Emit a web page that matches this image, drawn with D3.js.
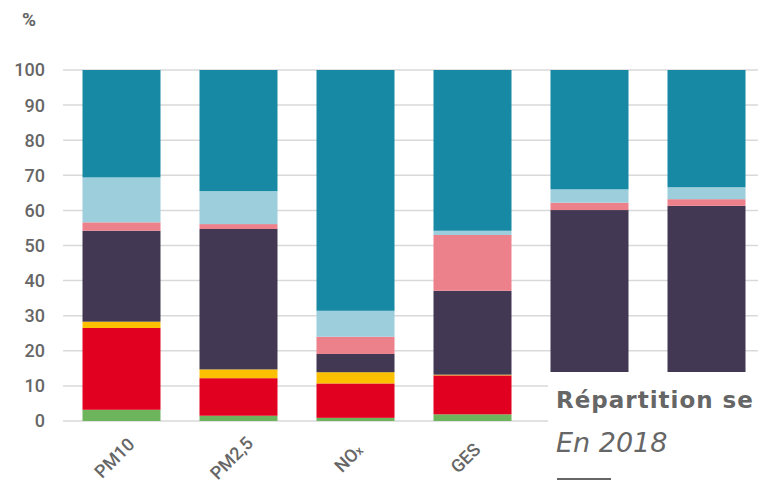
<!DOCTYPE html>
<html>
<head>
<meta charset="utf-8">
<script src="https://d3js.org/d3.v7.min.js"></script>
<style>
  body { margin: 0; background: #fff; }
  svg { display: block; font-family: Roboto, "DejaVu Sans", sans-serif; }
</style>
</head>
<body>
<svg width="758" height="484"></svg>
<script>
// categories (the last two are hidden under the title box)
const categories = ["PM10", "PM2,5", "NOx", "GES", "", ""];
// sector series, from bottom to top
const seriesKeys = ["green", "red", "yellow", "purple", "pink", "lightblue", "teal"];
const green     = [3.2, 1.5, 0.9, 1.9, 0, 0];
const red       = [23.3, 10.7, 9.8, 11.1, 0, 0];
const yellow    = [1.8, 2.5, 3.2, 0.2, 0, 0];
const purple    = [25.9, 40.0, 5.2, 23.9, 60.1, 61.3];
const pink      = [2.4, 1.4, 4.9, 15.9, 2.1, 1.9];
const lightblue = [12.8, 9.4, 7.4, 1.2, 3.8, 3.4];
const teal      = [30.6, 34.5, 68.6, 45.8, 34.0, 33.4];
const yTicks = [0, 10, 20, 30, 40, 50, 60, 70, 80, 90, 100];

const colors = {
  green: "#6cb55d", red: "#e1001f", yellow: "#fbc100", purple: "#433853",
  pink: "#ec808b", lightblue: "#9ccedc", teal: "#1889a4"
};
const seriesValues = { green, red, yellow, purple, pink, lightblue, teal };

const rows = categories.map((c, i) => {
  const r = { idx: i, label: c };
  seriesKeys.forEach(k => r[k] = seriesValues[k][i]);
  return r;
});

const svg = d3.select("svg");
const textColor = "#666";

const x = d3.scaleBand().domain(rows.map(d => d.idx)).range([63, 765])
  .paddingInner(1 / 3).paddingOuter(1 / 6);
const y = d3.scaleLinear().domain([0, 100]).range([421, 70]);

// gridlines
svg.append("g").selectAll("line").data(yTicks).enter().append("line")
  .attr("x1", 63).attr("x2", 758)
  .attr("y1", d => y(d)).attr("y2", d => y(d))
  .attr("stroke", "#d9d9d9").attr("stroke-width", 1.5);

// y tick labels
svg.append("g").selectAll("text").data(yTicks).enter().append("text")
  .attr("x", 45).attr("y", d => y(d)).attr("dy", "0.36em")
  .attr("text-anchor", "end").attr("font-size", 18).attr("font-weight", 500)
  .attr("fill", textColor).text(d => d);

svg.append("text").attr("x", 22).attr("y", 26)
  .attr("font-size", 19).attr("font-weight", 700).attr("fill", textColor).text("%");

// stacked bars
const stack = d3.stack().keys(seriesKeys)(rows);
svg.append("g").selectAll("g").data(stack).enter().append("g")
  .attr("fill", d => colors[d.key])
  .selectAll("rect").data(d => d).enter().append("rect")
  .attr("x", d => x(d.data.idx))
  .attr("width", x.bandwidth())
  .attr("y", d => y(d[1]))
  .attr("height", d => Math.max(0, y(d[0]) - y(d[1])));

// x labels, rotated and centred under each bar
const xl = svg.append("g").selectAll("text").data(rows.filter(d => d.label)).enter().append("text")
  .attr("transform", d => `translate(${x(d.idx) + x.bandwidth() / 2 - 7},${458}) rotate(-45)`)
  .attr("text-anchor", "middle").attr("dy", "0.35em")
  .attr("font-size", 18).attr("font-weight", 500).attr("fill", textColor);
xl.each(function (d) {
  const t = d3.select(this);
  if (d.label === "NOx") {
    t.append("tspan").text("NO");
    t.append("tspan").attr("font-size", 12).text("x");
  } else {
    t.text(d.label);
  }
});

// overlapping title box
svg.append("rect").attr("x", 548).attr("y", 372).attr("width", 210).attr("height", 112).attr("fill", "#fff");
svg.append("text").attr("x", 556).attr("y", 408)
  .attr("font-family", "'DejaVu Sans', sans-serif").attr("letter-spacing", 1)
  .attr("font-size", 23).attr("font-weight", 700).attr("fill", textColor).text("Répartition se");
svg.append("text").attr("x", 556).attr("y", 452)
  .attr("font-family", "'DejaVu Sans', sans-serif")
  .attr("font-size", 27).attr("font-style", "italic").attr("fill", textColor).text("En 2018");
svg.append("line").attr("x1", 557).attr("x2", 611).attr("y1", 479).attr("y2", 479)
  .attr("stroke", textColor).attr("stroke-width", 2);
</script>
</body>
</html>
